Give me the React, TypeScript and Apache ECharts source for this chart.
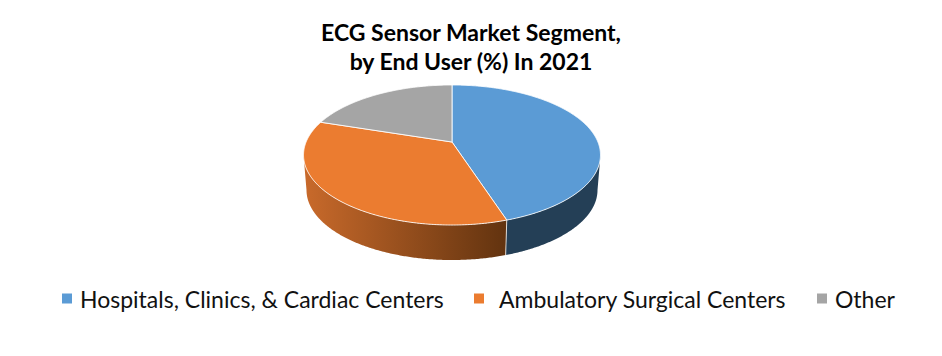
import React, { useEffect, useRef } from "react";
import * as echarts from "echarts";

const titleLines = ["ECG Sensor Market Segment,", "by End User (%) In 2021"];
const categories = ["Hospitals, Clinics, & Cardiac Centers", "Ambulatory Surgical Centers", "Other"];
const values = [45, 35, 20];
const colors = ["#5B9BD5", "#EB7C30", "#A5A5A5"];
const legendLeft = [62, 474, 817];
const legendTextGap = [3, 10, 3];

// Perspective projection of the pie disc
const CX = 452;
const APEX_Y = 142;
const K = 0.1857;
const A = 145.9;
const B = 67.6;
const DEPTH = 35;
const BOTTOM_SCALE = 0.98;
const SIL_R = 90 + (Math.asin(K) * 180) / Math.PI;
const SIL_L = 360 - SIL_R;

function project(deg: number): number[] {
  const t = (deg * Math.PI) / 180;
  const u = Math.sin(t);
  const v = -Math.cos(t);
  const w = 1 - K * v;
  return [CX + (A * u) / w, APEX_Y + (B * v) / w];
}
function lower(p: number[]): number[] {
  return [CX + (p[0] - CX) * BOTTOM_SCALE, p[1] + DEPTH];
}
function arc(a0: number, a1: number): number[][] {
  const n = Math.max(2, Math.ceil(Math.abs(a1 - a0) * 2));
  const out: number[][] = [];
  for (let i = 0; i <= n; i++) out.push(project(a0 + ((a1 - a0) * i) / n));
  return out;
}

function wallFill(i: number): any {
  if (i === 0) return "#243F56";
  if (i === 1)
    return new echarts.graphic.LinearGradient(0, 0, 1, 0, [
      { offset: 0, color: "#C96A2B" },
      { offset: 1, color: "#62330F" },
    ]);
  return "#6E6E6E";
}

function makeRender(i: number) {
  return (_params: any, api: any) => {
    const start = (api.value(0) / 100) * 360;
    const end = (api.value(1) / 100) * 360;
    const children: any[] = [];
    const wa = Math.max(start, SIL_R);
    const wb = Math.min(end, SIL_L);
    if (wb > wa) {
      const top = arc(wa, wb);
      const bottom = top.map(lower).reverse();
      children.push({
        type: "polygon",
        shape: { points: [...top, ...bottom] },
        style: { fill: wallFill(i) },
      });
      if (end < SIL_L) {
        const p = project(end);
        children.push({
          type: "line",
          shape: { x1: p[0], y1: p[1], x2: lower(p)[0], y2: lower(p)[1] },
          style: { stroke: "rgba(255,255,255,0.75)", lineWidth: 1 },
          z2: 5,
        });
      }
    }
    children.push({
      type: "polygon",
      shape: { points: [[CX, APEX_Y], ...arc(start, end)] },
      style: { fill: colors[i], stroke: "rgba(255,255,255,0.85)", lineWidth: 1, lineJoin: "round" },
      z2: 10,
    });
    return { type: "group", children };
  };
}

export default function App() {
  const ref = useRef<HTMLDivElement>(null);
  useEffect(() => {
    document.body.style.margin = "0";
    const chart = echarts.init(ref.current!, undefined, { renderer: "svg" });
    let acc = 0;
    const series = categories.map((name, i) => {
      const s = acc;
      acc += values[i];
      return {
        type: "custom",
        name,
        coordinateSystem: "none",
        silent: true,
        itemStyle: { color: colors[i] },
        data: [[s, acc]],
        renderItem: makeRender(i),
      };
    });
    chart.setOption({
      animation: false,
      backgroundColor: "#FFFFFF",
      title: {
        text: titleLines.join("\n"),
        left: 466,
        top: 12,
        textAlign: "center",
        textStyle: {
          fontFamily: "Lato",
          fontWeight: "bold",
          fontSize: 23,
          lineHeight: 29,
          color: "#000000",
        },
      },
      legend: categories.map((name, i) => ({
        data: [name],
        left: legendLeft[i],
        top: 287,
        icon: "rect",
        itemWidth: 10,
        itemHeight: 10,
        itemGap: 0,
        padding: 0,
        selectedMode: false,
        textStyle: { fontFamily: "Lato", fontSize: 23, color: "#111111", padding: [0, 0, 0, legendTextGap[i]] },
      })),
      series,
    });
    return () => chart.dispose();
  }, []);
  return <div ref={ref} style={{ width: 942, height: 356 }} />;
}
